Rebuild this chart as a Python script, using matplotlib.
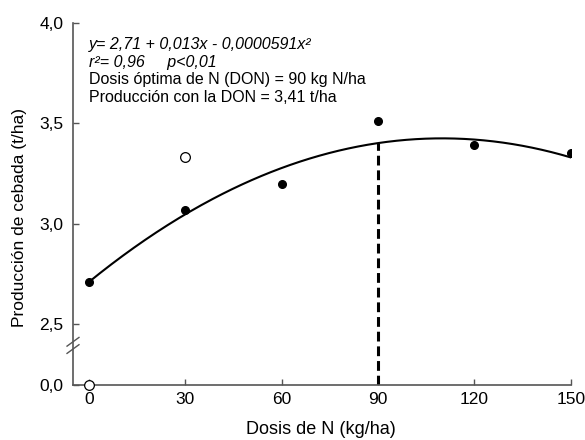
import numpy as np
import matplotlib
matplotlib.use("Agg")
import matplotlib.pyplot as plt

plt.rcParams['font.family'] = ['Liberation Sans', 'DejaVu Sans']

# Data
dose_filled = [0, 30, 60, 90, 120, 150]
yield_filled = [2.71, 3.07, 3.20, 3.51, 3.39, 3.35]
dose_open = [0, 30]
yield_open = [0.0, 3.33]
b0, b1, b2 = 2.71, 0.013, -0.0000591
don = 90
xticks = [0, 30, 60, 90, 120, 150]
yticks = [0.0, 2.5, 3.0, 3.5, 4.0]
ytick_labels = ["0,0", "2,5", "3,0", "3,5", "4,0"]
text_lines = ["y= 2,71 + 0,013x - 0,0000591x²",
              "r²= 0,96     p<0,01",
              "Dosis óptima de N (DON) = 90 kg N/ha",
              "Producción con la DON = 3,41 t/ha"]

GAP = 0.303
def fwd(v):
    v = np.asarray(v, dtype=float)
    return np.where(v >= 2.5, v, 2.5 - GAP + v * (GAP / 2.5))
def inv(u):
    u = np.asarray(u, dtype=float)
    return np.where(u >= 2.5, u, (u - (2.5 - GAP)) * (2.5 / GAP))

fig = plt.figure(figsize=(5.85, 4.4), dpi=100)
ax = fig.add_axes([73/585, 1 - 385.3/440, (570.7-73)/585, (385.3-22.7)/440])
ax.set_yscale('function', functions=(fwd, inv))

xs = np.linspace(0, 150, 300)
ax.plot(xs, b0 + b1*xs + b2*xs**2, color='black', lw=1.5, zorder=3)
yd = b0 + b1*don + b2*don**2
ax.plot([don, don], [0, yd], color='black', lw=2.2, ls=(0, (3.2, 1.6)), zorder=2)

ax.plot(dose_filled, yield_filled, 'o', color='black', ms=5.5, zorder=4)
ax.plot(dose_open, yield_open, 'o', mfc='white', mec='black', mew=0.9, ms=7,
        zorder=5, clip_on=False)

ax.set_xlim(-4.9, 150)
ax.set_ylim(0, 4.0)
ax.set_xticks(xticks)
ax.set_xticklabels([str(t) for t in xticks], fontsize=12.5)
ax.set_yticks(yticks)
ax.set_yticklabels(ytick_labels, fontsize=12.5)
for s in ['top', 'right']:
    ax.spines[s].set_visible(False)
for s in ['left', 'bottom']:
    ax.spines[s].set_color('#555555')
    ax.spines[s].set_linewidth(1.2)
ax.tick_params(direction='in', length=4, width=1, color='#555555')
ax.tick_params(axis='y', pad=7)
ax.tick_params(axis='x', pad=5)

ax.set_xlabel("Dosis de N (kg/ha)", fontsize=13, va='center')
ax.set_ylabel("Producción de cebada (t/ha)", fontsize=12.5, va='center')
ax.xaxis.set_label_coords(0.498, -0.123)
ax.yaxis.set_label_coords(-0.1065, 0.464)

# break marks on y axis
for dy in (0.0, 0.02):
    ax.plot([-0.012, 0.012], [0.1 + dy - 0.012, 0.1 + dy + 0.012], transform=ax.transAxes,
            color='#555555', lw=1.0, clip_on=False)

for i, t in enumerate(text_lines):
    style = 'italic' if i < 2 else 'normal'
    ax.text(0.032, 0.94 - i*0.049, t, transform=ax.transAxes, fontsize=11.5,
            style=style, va='center', ha='left')

fig.savefig("out.png", dpi=100)
